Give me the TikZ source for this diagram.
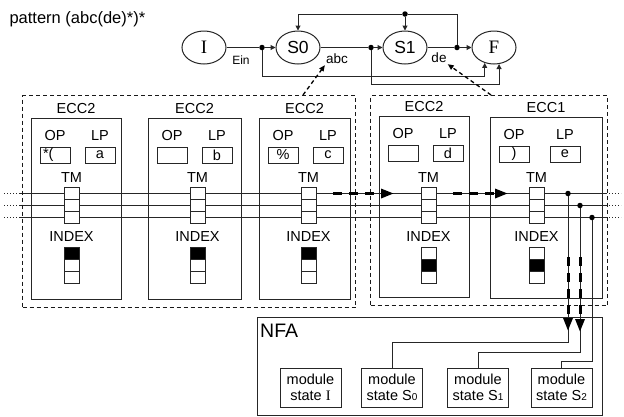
\documentclass[tikz,border=0pt]{standalone}
\usepackage{fontspec}
\setmainfont{Liberation Sans}
\newfontfamily\seriffont{Liberation Serif}
\usetikzlibrary{shapes.geometric,arrows.meta}
\tikzset{
  every node/.style={font=\fontsize{14.5}{16}\selectfont, text=black},
  ln/.style={line width=1pt, draw=black!85},
  st/.style={ellipse, draw=black!85, line width=1pt, minimum width=44pt, minimum height=33pt, inner sep=0pt, font=\fontsize{17.5}{17.5}\selectfont},
  jn/.style={circle, fill=black, inner sep=0pt, minimum size=5.5pt},
  sarr/.style={-{Triangle[length=5pt,width=5pt]}},
  gbox/.style={draw=black!90, line width=1.4pt, dash pattern=on 4pt off 3pt, rectangle, inner sep=0pt},
  eccbox/.style={draw=black!85, line width=1pt, rectangle, inner sep=0pt},
  regbox/.style={draw=black!85, line width=1pt, rectangle, minimum width=30pt, minimum height=16pt, inner sep=0pt},
  cell/.style={draw=black!85, line width=1pt, rectangle, fill=white, minimum width=15pt, minimum height=12pt, inner sep=0pt},
  thickarr/.style={line width=3pt, draw=black, dash pattern=on 9pt off 7pt, -{Triangle[length=13pt,width=9pt]}},
  dsharr/.style={line width=1.3pt, draw=black, dash pattern=on 4pt off 3pt, -{Triangle[length=6pt,width=5pt]}},
  dotext/.style={line width=1pt, draw=black!85, dash pattern=on 1.2pt off 1.8pt},
  small/.style={font=\fontsize{13.5}{13.5}\selectfont, inner sep=1pt},
  modbox/.style={draw=black!85, line width=1pt, rectangle, minimum width=61pt, minimum height=39pt, inner sep=0pt, align=center, font=\fontsize{14.5}{16.5}\selectfont},
}
% #1 name, #2 left, #3 top, #4 width, #5 op x, #6 tm x, #7 lp x, #8 op text, #9 lp text
\newcommand\eccunit[9]{%
  \node[eccbox, anchor=north west, minimum width=#4pt, minimum height=181pt] (#1) at (#2,#3) {};
  \node[anchor=base] (#1lab) at (#2+#4/2, #3-5) {\ecclab};
  \node (#1opl) at (#5, #3+18) {OP};
  \node (#1lpl) at (#7, #3+18) {LP};
  \node[regbox] (#1op) at (#5, #3+37) {#8};
  \node[regbox] (#1lp) at (#7, #3+37) {#9};
  \node (#1tml) at (#6, 178) {TM};
  \node[cell] (#1t1) at (#6, 193.5) {};
  \node[cell] (#1t2) at (#6, 205.5) {};
  \node[cell] (#1t3) at (#6, 217.5) {};
  \node (#1ixl) at (#6, 237) {INDEX};
  \node[cell, minimum height=12.3pt, fill=\fa] (#1i1) at (#6, 253.2) {};
  \node[cell, minimum height=12.3pt, fill=\fb] (#1i2) at (#6, 265.5) {};
  \node[cell, minimum height=12.3pt, fill=white] (#1i3) at (#6, 277.8) {};
}
\begin{document}
\begin{tikzpicture}[x=1pt,y=-1pt]
\useasboundingbox (0,0) rectangle (624,416);

% title
\node[anchor=west, font=\fontsize{16.5}{16.5}\selectfont] (title) at (6,19) {pattern (abc(de)*)*};

% state machine
\node[st, font=\seriffont\fontsize{19}{19}\selectfont] (I) at (204,47.5) {I};
\node[st] (S0) at (298,47.5) {S0};
\node[st] (S1) at (405,47.5) {S1};
\node[st, font=\seriffont\fontsize{19}{19}\selectfont] (F) at (494,47.5) {F};
\node[jn] (d1) at (262,47.5) {};
\node[jn] (d2) at (371,47.5) {};
\node[jn] (d3) at (457,47.5) {};
\node[jn] (d4) at (405,14) {};
\coordinate (y75) at (0,76);
\coordinate (y83) at (0,84);
\draw[ln] (I) -- (d1);
\draw[ln, sarr] (d1) -- (S0);
\draw[ln] (S0) -- (d2);
\draw[ln, sarr] (d2) -- (S1);
\draw[ln] (S1) -- (d3);
\draw[ln, sarr] (d3) -- (F);
\draw[ln] (d3) |- (d4);
\draw[ln, sarr] (d4) -- (S1);
\draw[ln, sarr] (d4) -| (S0);
\draw[ln, sarr] (d1) |- (F.239 |- y75) -- (F.239);
\draw[ln, sarr] (d2) |- (F.287 |- y83) -- (F.287);
\node[small, font=\fontsize{12}{12}\selectfont] (ein) at (241,60) {Ein};
\node[small] (abc) at (337,59) {abc};
\node[small] (de) at (439,58) {de};

% bus lines
\foreach \i/\yy in {1/193.5, 2/205.5, 3/217.5} {
  \coordinate (L\i) at (20,\yy);
  \coordinate (Ld\i) at (4,\yy);
  \coordinate (R\i) at (606,\yy);
  \coordinate (Rd\i) at (621,\yy);
  \draw[ln] (L\i) -- (R\i);
  \draw[dotext] (Ld\i) -- (L\i);
  \draw[dotext] (R\i) -- (Rd\i);
}

% group boxes
\node[gbox, anchor=north west, minimum width=333pt, minimum height=212pt] (g1) at (22,95) {};
\node[gbox, anchor=north west, minimum width=237pt, minimum height=210pt] (g2) at (370,95) {};

% ECC units
\def\ecclab{ECC2}\def\fa{black}\def\fb{white}
\eccunit{b1}{31}{118}{90}{55}{71.5}{100}{\makebox[24pt][l]{*(}}{a}
\eccunit{b2}{148}{118}{93}{172}{197.5}{217}{}{b}
\eccunit{b3}{259}{118}{91}{283}{308.5}{328}{\%}{c}
\def\fa{white}\def\fb{black}
\eccunit{b4}{379}{116}{90}{403}{428.5}{448}{}{d}
\def\ecclab{ECC1}
\eccunit{b5}{490}{117}{112}{514}{536.5}{565}{)}{e}

% dashed pointers to labels
\coordinate (g1a) at (303,95);
\coordinate (g2a) at (491,95);
\draw[dsharr] (g1a) -- (abc.south west);
\draw[dsharr] (g2a) -- (de.south east);

% thick dashed flow on bus
\coordinate (h1s) at (333,193.5);
\coordinate (h1e) at (394,193.5);
\coordinate (h2s) at (453,193.5);
\coordinate (h2e) at (508,193.5);
\draw[thickarr] (h1s) -- (h1e);
\draw[thickarr] (h2s) -- (h2e);

% NFA
\node[draw=black!85, line width=1pt, rectangle, anchor=north west, minimum width=345pt, minimum height=98pt, inner sep=0pt] (nfa) at (257,317) {};
\node[anchor=west, font=\fontsize{19.5}{19.5}\selectfont, inner sep=0pt] (nfal) at (260,331) {NFA};
\node[modbox] (mI) at (310.5,387.5) {module\\state {\seriffont I}};
\node[modbox] (mS0) at (392,387.5) {module\\state S{\fontsize{10}{10}\selectfont 0}};
\node[modbox] (mS1) at (478,387.5) {module\\state S{\fontsize{10}{10}\selectfont 1}};
\node[modbox] (mS2) at (561.5,387.5) {module\\state S{\fontsize{10}{10}\selectfont 2}};

% taps to NFA
\node[jn] (j1) at (568,193.5) {};
\node[jn] (j2) at (580,205.5) {};
\node[jn] (j3) at (592,217.5) {};
\coordinate (k1) at (568,342);
\coordinate (k2) at (580,352);
\coordinate (k3) at (592,361);
\draw[ln] (j1) -- (k1) -| (mS0.north);
\draw[ln] (j2) -- (k2) -| (mS1.north);
\draw[ln] (j3) -- (k3) -| (mS2.north);
\coordinate (v1s) at (568,257);
\coordinate (v1e) at (568,331);
\coordinate (v2s) at (580,257);
\coordinate (v2e) at (580,332);
\draw[thickarr] (v1s) -- (v1e);
\draw[thickarr] (v2s) -- (v2e);
\end{tikzpicture}
\end{document}
